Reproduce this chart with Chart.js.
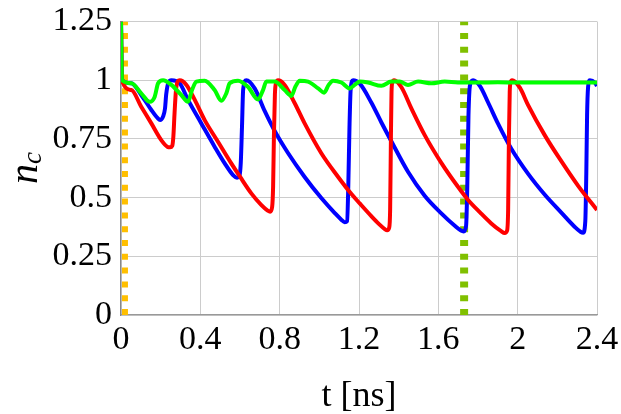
<!DOCTYPE html>
<html>
<head>
<meta charset="utf-8">
<script src="https://cdn.jsdelivr.net/npm/chart.js@4.4.1/dist/chart.umd.min.js"></script>
<style>
  html, body { margin: 0; padding: 0; background: #fff; }
</style>
</head>
<body>
<canvas id="ncChart" width="621" height="414"></canvas>
<script>
// values (t in ns, n_c dimensionless)
let blueT = [0, 0.005, 0.052, 0.102, 0.153, 0.185, 0.197, 0.212, 0.222, 0.228, 0.240, 0.254, 0.296, 0.338, 0.405, 0.472, 0.523, 0.565, 0.585, 0.597, 0.604, 0.610, 0.616, 0.632, 0.674, 0.725, 0.775, 0.842, 0.926, 1.010, 1.078, 1.112, 1.128, 1.140, 1.146, 1.152, 1.158, 1.170, 1.204, 1.262, 1.313, 1.363, 1.447, 1.532, 1.615, 1.683, 1.712, 1.728, 1.740, 1.746, 1.752, 1.760, 1.775, 1.810, 1.851, 1.901, 1.968, 2.052, 2.137, 2.220, 2.288, 2.314, 2.330, 2.341, 2.346, 2.350, 2.355, 2.364, 2.389, 2.400]
let blueN = [1.25, 1.0, 0.987, 0.937, 0.873, 0.838, 0.830, 0.845, 0.88, 0.94, 0.992, 1.0, 0.987, 0.916, 0.816, 0.717, 0.646, 0.596, 0.585, 0.592, 0.65, 0.80, 0.96, 1.0, 0.965, 0.868, 0.784, 0.690, 0.588, 0.498, 0.434, 0.405, 0.395, 0.40, 0.55, 0.80, 0.96, 1.0, 0.985, 0.905, 0.820, 0.740, 0.610, 0.507, 0.433, 0.380, 0.361, 0.356, 0.38, 0.55, 0.85, 0.98, 1.0, 0.975, 0.905, 0.815, 0.708, 0.602, 0.512, 0.436, 0.375, 0.356, 0.350, 0.40, 0.60, 0.85, 0.97, 1.0, 0.99, 0.975]

let redT = [0, 0.005, 0.052, 0.102, 0.153, 0.203, 0.235, 0.248, 0.258, 0.264, 0.270, 0.277, 0.286, 0.296, 0.330, 0.372, 0.422, 0.489, 0.556, 0.600, 0.657, 0.708, 0.738, 0.752, 0.762, 0.767, 0.771, 0.776, 0.782, 0.792, 0.825, 0.876, 0.926, 1.010, 1.094, 1.162, 1.205, 1.262, 1.300, 1.330, 1.342, 1.352, 1.357, 1.361, 1.364, 1.368, 1.377, 1.414, 1.464, 1.532, 1.615, 1.699, 1.750, 1.810, 1.867, 1.915, 1.935, 1.946, 1.952, 1.956, 1.960, 1.964, 1.972, 2.011, 2.052, 2.137, 2.220, 2.305, 2.400]
let redN = [1.25, 1.0, 0.958, 0.887, 0.816, 0.745, 0.716, 0.714, 0.72, 0.76, 0.86, 0.955, 0.995, 1.0, 0.98, 0.916, 0.830, 0.738, 0.646, 0.589, 0.518, 0.468, 0.446, 0.440, 0.46, 0.55, 0.76, 0.94, 0.99, 1.0, 0.98, 0.902, 0.816, 0.689, 0.589, 0.515, 0.474, 0.421, 0.388, 0.366, 0.361, 0.372, 0.45, 0.76, 0.95, 0.99, 1.0, 0.970, 0.880, 0.765, 0.648, 0.546, 0.49, 0.437, 0.390, 0.358, 0.349, 0.358, 0.45, 0.76, 0.95, 0.99, 1.0, 0.968, 0.895, 0.765, 0.655, 0.550, 0.447]

let greenT = [0, 0.005, 0.052, 0.102, 0.145, 0.17, 0.187, 0.212, 0.254, 0.304, 0.338, 0.358, 0.38, 0.422, 0.472, 0.506, 0.531, 0.548, 0.590, 0.640, 0.691, 0.716, 0.733, 0.775, 0.825, 0.859, 0.879, 0.901, 0.943, 0.994, 1.024, 1.047, 1.069, 1.111, 1.153, 1.178, 1.205, 1.246, 1.313, 1.363, 1.405, 1.447, 1.498, 1.565, 1.632, 1.699, 1.80, 1.90, 2.0, 2.1, 2.2, 2.3, 2.4]
let greenN = [1.25, 1.0, 0.987, 0.944, 0.908, 0.93, 0.987, 1.0, 0.98, 0.937, 0.908, 0.958, 0.994, 0.998, 0.958, 0.912, 0.944, 0.987, 0.998, 0.972, 0.918, 0.958, 0.994, 0.994, 0.958, 0.933, 0.972, 0.998, 0.994, 0.965, 0.947, 0.98, 0.998, 0.99, 0.965, 0.98, 0.994, 0.99, 0.976, 0.994, 0.994, 0.98, 0.994, 0.987, 0.994, 0.99, 0.99, 0.991, 0.99, 0.99, 0.99, 0.99, 0.99]

// the two dotted vertical markers
let markerT = [0.02, 1.73]
let markerColors = ['#FFBF00', '#80C000']
let markerWidths = [6, 8]

let xTicks = [0, 0.4, 0.8, 1.2, 1.6, 2, 2.4]
let xTickLabels = ['0', '0.4', '0.8', '1.2', '1.6', '2', '2.4']
let yTicks = [0, 0.25, 0.5, 0.75, 1, 1.25]
let yTickLabels = ['0', '0.25', '0.5', '0.75', '1', '1.25']

let serif = '"Liberation Serif", "DejaVu Serif", serif'

let toPoints = (ts, ns) => ts.map((t, i) => ({ x: t, y: ns[i] }))

let curve = (ts, ns, color, order) => ({
  data: toPoints(ts, ns),
  borderColor: color,
  borderWidth: 4,
  pointRadius: 0,
  cubicInterpolationMode: 'monotone',
  order: order
})

let marker = i => ({
  data: [{ x: markerT[i], y: yTicks[0] }, { x: markerT[i], y: yTicks[yTicks.length - 1] }],
  borderColor: markerColors[i],
  borderWidth: markerWidths[i],
  borderDash: [6, 7.8],
  borderCapStyle: 'butt',
  pointRadius: 0,
  order: 10
})

// y axis title n_c, with italic subscript
let ncLabel = {
  id: 'ncLabel',
  afterDraw(chart) {
    let ctx = chart.ctx
    ctx.save()
    ctx.translate(37, 184)
    ctx.rotate(-Math.PI / 2)
    ctx.fillStyle = '#000'
    ctx.textBaseline = 'alphabetic'
    ctx.font = 'italic 40px ' + serif
    ctx.fillText('n', 0, 0)
    let w = ctx.measureText('n').width
    ctx.font = 'italic 27px ' + serif
    ctx.fillText('c', w, 4)
    ctx.restore()
  }
}

let ctx = document.getElementById('ncChart').getContext('2d')

new Chart(ctx, {
  type: 'line',
  data: {
    datasets: [
      curve(greenT, greenN, '#00FF00', 0),
      curve(redT, redN, '#FF0000', 1),
      curve(blueT, blueN, '#0000FF', 2),
      marker(0),
      marker(1)
    ]
  },
  options: {
    responsive: false,
    animation: false,
    layout: { padding: { left: 0, right: 24, top: 21.5, bottom: 0 } },
    plugins: { legend: { display: false }, tooltip: { enabled: false } },
    scales: {
      x: {
        type: 'linear',
        min: 0,
        max: 2.4,
        afterBuildTicks: s => { s.ticks = xTicks.map(v => ({ value: v })) },
        afterFit: s => {
          s.height = 99
          s.paddingLeft = 0
          s.paddingRight = 0
        },
        ticks: {
          callback: (v, i) => xTickLabels[i],
          font: { family: serif, size: 34 },
          color: '#000',
          padding: 5,
          maxRotation: 0
        },
        grid: { color: '#cccccc', lineWidth: 1, drawTicks: false },
        border: { color: '#999999', width: 1.3 },
        title: {
          display: true,
          text: 't [ns]',
          font: { family: serif, size: 36 },
          color: '#000',
          padding: { top: 0, bottom: -4 }
        }
      },
      y: {
        min: 0,
        max: 1.25,
        afterBuildTicks: s => { s.ticks = yTicks.map(v => ({ value: v })) },
        afterFit: s => {
          s.width = 121
          s.paddingTop = 0
          s.paddingBottom = 0
        },
        ticks: {
          callback: (v, i) => yTickLabels[i],
          font: { family: serif, size: 34 },
          color: '#000',
          padding: 9
        },
        grid: { color: '#cccccc', lineWidth: 1, drawTicks: false },
        border: { color: '#888888', width: 1.3 }
      }
    }
  },
  plugins: [ncLabel]
})
</script>
</body>
</html>
